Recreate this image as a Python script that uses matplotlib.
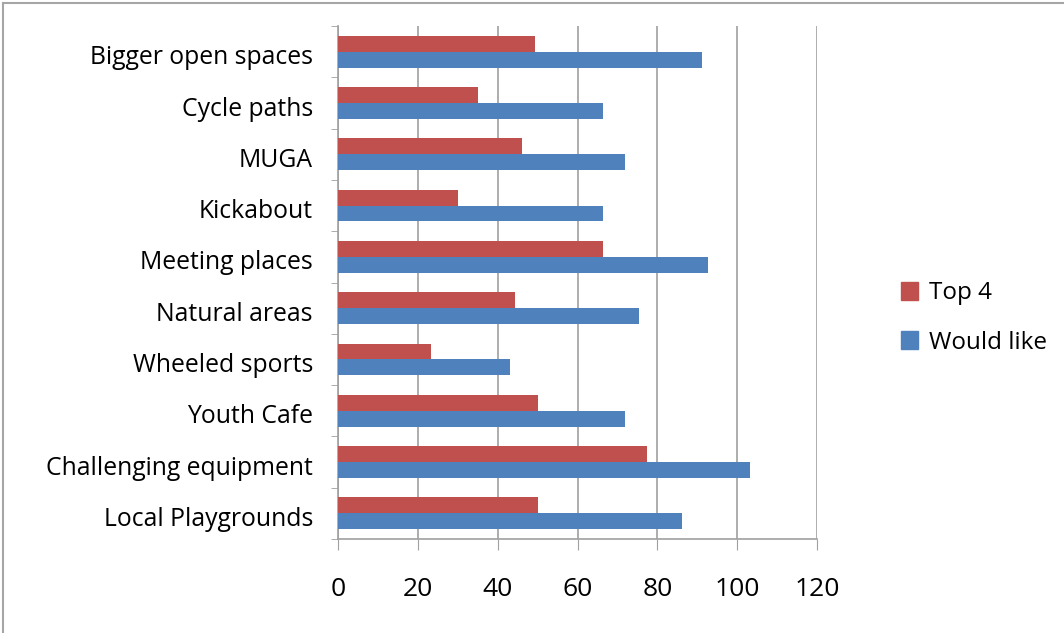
import matplotlib
matplotlib.use("Agg")
import matplotlib.pyplot as plt
from matplotlib.lines import Line2D
import numpy as np

categories = ["Local Playgrounds", "Challenging equipment", "Youth Cafe", "Wheeled sports",
              "Natural areas", "Meeting places", "Kickabout", "MUGA", "Cycle paths",
              "Bigger open spaces"]
top4 = [50, 77.3, 50, 23.4, 44.4, 66.5, 30, 46, 35, 49.4]
would_like = [86.3, 103.3, 72, 43.2, 75.5, 92.6, 66.5, 72, 66.5, 91.3]
xticks = [0, 20, 40, 60, 80, 100, 120]

RED = "#C0504D"
BLUE = "#4F81BD"
GRID = "#A0A0A0"

plt.rcParams['font.family'] = ['Open Sans', 'DejaVu Sans']

W, H = 1064, 633
fig = plt.figure(figsize=(W / 100, H / 100), dpi=100)
ax = fig.add_axes([338 / W, 1 - 539 / H, (817 - 338) / W, (539 - 26) / H])

y = np.arange(len(categories))
h = 0.31
ax.barh(y + h / 2, top4, height=h, color=RED, label="Top 4", zorder=3)
ax.barh(y - h / 2, would_like, height=h, color=BLUE, label="Would like", zorder=3)

ax.set_xlim(0, 120)
ax.set_ylim(-0.5, len(categories) - 0.5)
ax.set_xticks(xticks)
ax.set_xticklabels([str(t) for t in xticks], fontsize=19)
ax.set_yticks(y - 0.06)
ax.set_yticklabels(categories, fontsize=17.8)
ax.tick_params(axis="y", length=0, pad=18)
ax.tick_params(axis="x", length=8, color=GRID, pad=19, direction="out")
ax.set_yticks(np.arange(-0.5, len(categories)), minor=True)
ax.tick_params(axis="y", which="minor", length=5, color=GRID, direction="out")

ax.grid(axis="x", color=GRID, linewidth=1.2, zorder=0)
for s in ["top", "right"]:
    ax.spines[s].set_visible(False)
for s in ["left", "bottom"]:
    ax.spines[s].set_color(GRID)
    ax.spines[s].set_linewidth(1.2)

handles = [plt.Rectangle((0, 0), 1, 1, color=RED), plt.Rectangle((0, 0), 1, 1, color=BLUE)]
fig.legend(handles, ["Top 4", "Would like"], loc="center left",
           bbox_to_anchor=(879 / W, 1 - 318 / H), frameon=False, fontsize=17.5,
           handlelength=0.7, handleheight=0.75, handletextpad=0.45, labelspacing=1.05)

# chart border
fig.add_artist(Line2D([3 / W, 3 / W], [0, 1 - 3 / H], color="#A6A6A6", linewidth=1.5,
                      transform=fig.transFigure))
fig.add_artist(Line2D([3 / W, 1], [1 - 3 / H, 1 - 3 / H], color="#A6A6A6", linewidth=1.5,
                      transform=fig.transFigure))

fig.savefig("out.png", dpi=100)
